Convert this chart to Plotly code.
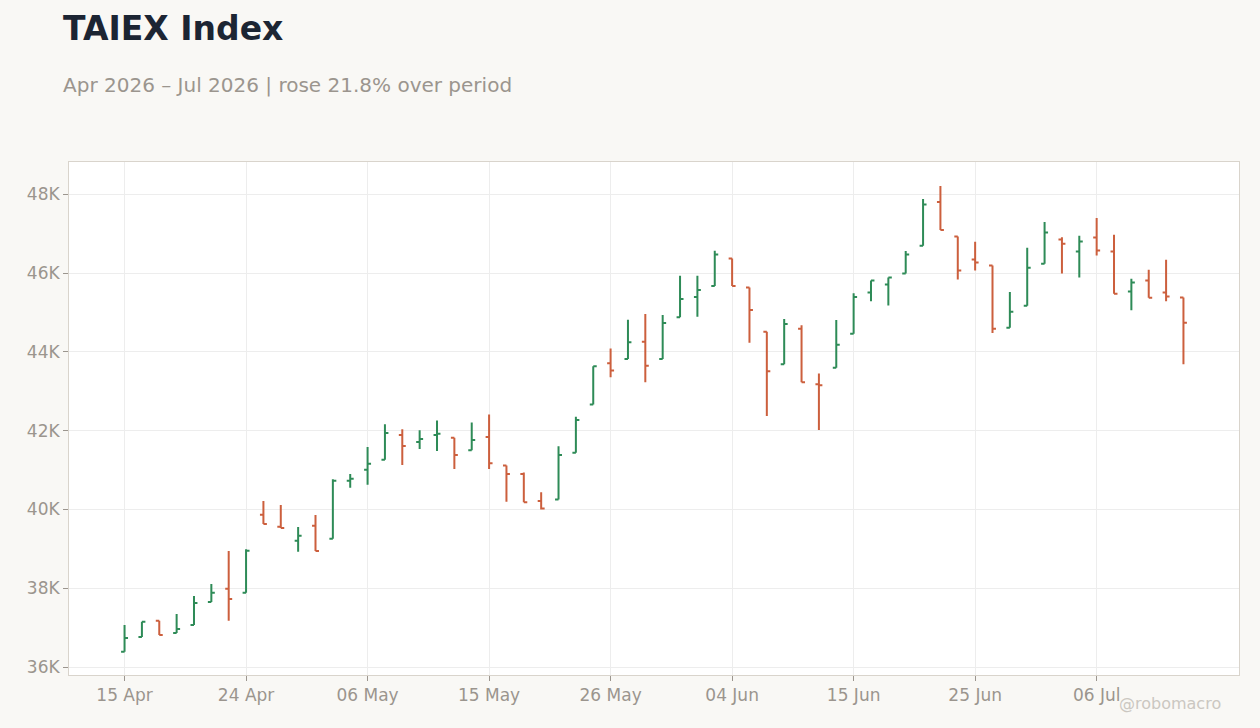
import plotly.graph_objects as go

dates = [
    "2026-04-15", "2026-04-16", "2026-04-17", "2026-04-20", "2026-04-21", "2026-04-22", "2026-04-23", "2026-04-24",
    "2026-04-27", "2026-04-28", "2026-04-29", "2026-04-30",
    "2026-05-04", "2026-05-05", "2026-05-06", "2026-05-07", "2026-05-08",
    "2026-05-11", "2026-05-12", "2026-05-13", "2026-05-14", "2026-05-15",
    "2026-05-18", "2026-05-19", "2026-05-20", "2026-05-21", "2026-05-22",
    "2026-05-25", "2026-05-26", "2026-05-27", "2026-05-28", "2026-05-29",
    "2026-06-01", "2026-06-02", "2026-06-03", "2026-06-04", "2026-06-05",
    "2026-06-08", "2026-06-09", "2026-06-10", "2026-06-11", "2026-06-12",
    "2026-06-15", "2026-06-16", "2026-06-17", "2026-06-18",
    "2026-06-22", "2026-06-23", "2026-06-24", "2026-06-25", "2026-06-26",
    "2026-06-29", "2026-06-30", "2026-07-01", "2026-07-02", "2026-07-03",
    "2026-07-06", "2026-07-07", "2026-07-08", "2026-07-09", "2026-07-10",
    "2026-07-13",
]

open_ = [
    36393, 36765, 37179, 36866, 37069, 37653, 37992, 37890,
    39870, 39565, 39210, 39590,
    39261, 40733, 41012, 41266, 41891,
    41713, 41891, 41823, 41502, 41840,
    41114, 40903, 40219, 40253, 41443,
    42667, 43714, 43823, 44258, 43817,
    44878, 45396, 45676, 46372, 45634,
    44513, 43690, 44589, 43180, 43596,
    44462, 45506, 45710, 45990,
    46692, 47806, 46929, 46346, 46194,
    44616, 45173, 46237, 46853, 46549,
    46903, 46549, 45536, 45815, 45511,
    45384,
]
high = [
    37069, 37154, 37179, 37349, 37805, 38110, 38948, 38990,
    40217, 40115, 39557, 39861,
    40766, 40902, 41587, 42161, 42034,
    42009, 42262, 41823, 42211, 42414,
    41114, 40937, 40439, 41604, 42355,
    43638, 44085, 44819, 44963, 44938,
    45931, 45931, 46568, 46372, 45634,
    44513, 44836, 44674, 43452, 44810,
    45489, 45812, 45888, 46559,
    47882, 48212, 46929, 46794, 46194,
    45519, 46642, 47300, 46912, 46946,
    47401, 46971, 45857, 46085, 46338,
    45384,
]
low = [
    36393, 36765, 36816, 36866, 37069, 37653, 37179, 37890,
    39633, 39531, 38931, 38948,
    39261, 40555, 40631, 41266, 41131,
    41536, 41485, 41030, 41502, 41030,
    40194, 40186, 40000, 40253, 41443,
    42667, 43359, 43823, 43231, 43817,
    44878, 44895, 45676, 45676, 44233,
    42374, 43690, 43231, 42017, 43596,
    44462, 45286, 45175, 45990,
    46692, 47097, 45840, 46068, 44481,
    44616, 45173, 46237, 45992, 45891,
    46448, 45477, 45055, 45376, 45283,
    43688,
]
close = [
    36740, 37154, 36816, 36968, 37628, 37890, 37729, 38956,
    39633, 39531, 39337, 38948,
    40733, 40783, 41164, 41941, 41612,
    41789, 41924, 41384, 41764, 41173,
    40903, 40186, 40025, 41384, 42270,
    43638, 43528, 44245, 43647, 44734,
    45345, 45574, 46474, 45676, 45065,
    43511, 44708, 43231, 43155, 44182,
    45396, 45812, 45888, 46474,
    47739, 47097, 46068, 46270, 44591,
    45021, 46135, 47030, 46743, 46802,
    46574, 45477, 45764, 45376, 45409,
    44743,
]

y_ticks = [36000, 38000, 40000, 42000, 44000, 46000, 48000]
y_tick_labels = [f"{v // 1000}K" for v in y_ticks]

MONTHS = ["Jan", "Feb", "Mar", "Apr", "May", "Jun", "Jul", "Aug", "Sep", "Oct", "Nov", "Dec"]


def fmt(d):
    y, m, dd = d.split("-")
    return f"{dd} {MONTHS[int(m) - 1]}"


x_tick_idx = list(range(0, len(dates), 7))
x_tickvals = [dates[i] for i in x_tick_idx]
x_ticktext = [fmt(dates[i]) for i in x_tick_idx]

pct = (close[-1] / close[0] - 1) * 100
subtitle = f"Apr 2026 – Jul 2026 | rose {pct:.1f}% over period"

GREEN = "#2e8b57"
RED = "#cc5f3d"
BG = "#f9f8f5"
FONT = "DejaVu Sans"
GRID = "#ededed"
AXIS = "#d9d4cc"
TICKC = "#9b958e"

fig = go.Figure(
    go.Ohlc(
        x=dates,
        open=open_,
        high=high,
        low=low,
        close=close,
        increasing=dict(line=dict(color=GREEN, width=2)),
        decreasing=dict(line=dict(color=RED, width=2)),
        tickwidth=0.2,
        showlegend=False,
        hoverinfo="x+y",
    )
)

fig.update_layout(
    width=1260,
    height=728,
    paper_bgcolor=BG,
    plot_bgcolor="#ffffff",
    margin=dict(l=69, r=21, t=162, b=53),
    font=dict(family=FONT, color=TICKC, size=17),
    xaxis=dict(
        type="category",
        range=[-3.2, 64.2],
        tickvals=x_tickvals,
        ticktext=x_ticktext,
        showgrid=True,
        gridcolor=GRID,
        showline=True,
        linecolor=AXIS,
        linewidth=1,
        mirror=True,
        ticks="outside",
        ticklen=5,
        tickcolor=TICKC,
        tickfont=dict(size=17, color=TICKC),
        rangeslider=dict(visible=False),
        zeroline=False,
    ),
    yaxis=dict(
        range=[35800, 48820],
        tickvals=y_ticks,
        ticktext=y_tick_labels,
        showgrid=True,
        gridcolor=GRID,
        showline=True,
        linecolor=AXIS,
        linewidth=1,
        mirror=True,
        ticks="outside",
        ticklen=5,
        tickcolor=TICKC,
        tickfont=dict(size=17, color=TICKC),
        zeroline=False,
    ),
    annotations=[
        dict(
            text="<b>TAIEX Index</b>",
            xref="paper", yref="paper",
            x=0, y=1.261, xshift=-8,
            xanchor="left", yanchor="middle",
            showarrow=False,
            font=dict(family=FONT, size=33, color="#1c2533"),
        ),
        dict(
            text=subtitle,
            xref="paper", yref="paper",
            x=0, y=1.150, xshift=-8,
            xanchor="left", yanchor="middle",
            showarrow=False,
            font=dict(family=FONT, size=20, color="#9b958e"),
        ),
        dict(
            text="@robomacro",
            xref="paper", yref="paper",
            x=0.941, y=-0.0546,
            xanchor="center", yanchor="middle",
            showarrow=False,
            font=dict(family=FONT, size=16, color="#cbc7c1"),
        ),
    ],
)

fig.write_html(
    "out.html",
    config={"displayModeBar": False},
    post_script=f"document.body.style.margin='0';document.body.style.background='{BG}';",
)
